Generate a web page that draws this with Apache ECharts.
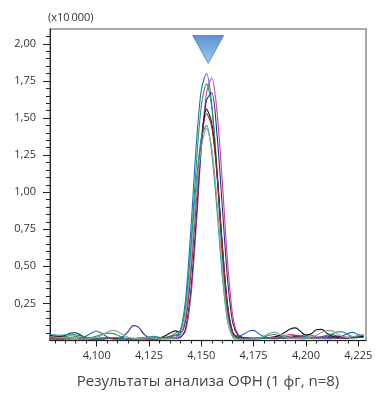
<!DOCTYPE html>
<html>
<head>
<meta charset="utf-8">
<script src="https://cdn.jsdelivr.net/npm/echarts@6/dist/echarts.min.js"></script>
<style>
html,body{margin:0;padding:0;background:#fff;}
#c{width:376px;height:403px;}
</style>
</head>
<body>
<div id="c"></div>
<script>
// Retention time grid (min)
const times = [4.0775,4.0800,4.0825,4.0850,4.0875,4.0900,4.0925,4.0950,4.0975,4.1000,
4.1025,4.1050,4.1075,4.1100,4.1125,4.1150,4.1175,4.1200,4.1225,4.1250,
4.1275,4.1300,4.1325,4.1350,4.1375,4.1400,4.1425,4.1450,4.1475,4.1500,
4.1525,4.1550,4.1575,4.1600,4.1625,4.1650,4.1675,4.1700,4.1725,4.1750,
4.1775,4.1800,4.1825,4.1850,4.1875,4.1900,4.1925,4.1950,4.1975,4.2000,
4.2025,4.2050,4.2075,4.2100,4.2125,4.2150,4.2175,4.2200,4.2225,4.2250,4.2275];

// Intensities (x10 000)
const run1 = [0.020,0.018,0.015,0.012,0.010,0.012,0.018,0.030,0.050,0.064,0.048,0.025,0.012,0.010,0.012,0.015,0.014,0.012,0.010,0.012,0.015,0.014,0.012,0.012,
0.018,0.062,0.280,0.745,1.300,1.690,1.800,1.590,1.125,0.570,0.190,0.050,0.030,0.040,
0.062,0.068,0.045,0.025,0.015,0.012,0.015,0.020,0.018,0.015,0.012,0.015,0.020,0.018,0.015,0.012,0.015,0.020,0.030,0.048,0.055,0.040,0.030];
const run2 = [0.010,0.010,0.012,0.015,0.018,0.015,0.012,0.010,0.012,0.015,0.018,0.020,0.018,0.015,0.012,0.010,0.012,0.015,0.018,0.015,0.012,0.012,0.015,0.020,
0.022,0.025,0.065,0.290,0.750,1.295,1.670,1.770,1.545,1.080,0.540,0.170,0.040,0.018,
0.012,0.010,0.012,0.015,0.020,0.025,0.028,0.035,0.042,0.035,0.030,0.040,0.035,0.025,0.018,0.015,0.020,0.025,0.022,0.018,0.020,0.025,0.022];
const run3 = [0.030,0.028,0.025,0.028,0.032,0.028,0.020,0.015,0.020,0.030,0.042,0.050,0.048,0.035,0.020,0.012,0.010,0.012,0.015,0.018,0.020,0.018,0.020,0.028,
0.048,0.070,0.230,0.630,1.165,1.580,1.730,1.575,1.160,0.620,0.210,0.045,0.015,0.012,
0.012,0.015,0.018,0.025,0.035,0.040,0.030,0.020,0.015,0.018,0.025,0.020,0.015,0.018,0.025,0.035,0.040,0.030,0.020,0.015,0.020,0.030,0.035];
const run4 = [0.025,0.022,0.020,0.018,0.015,0.012,0.010,0.012,0.015,0.012,0.010,0.012,0.015,0.012,0.025,0.060,0.100,0.090,0.045,0.018,0.010,0.012,0.015,0.015,
0.015,0.020,0.085,0.340,0.805,1.305,1.620,1.670,1.390,0.910,0.420,0.120,0.035,0.020,
0.018,0.015,0.012,0.015,0.018,0.020,0.018,0.015,0.020,0.028,0.030,0.025,0.020,0.018,0.020,0.025,0.030,0.028,0.025,0.020,0.018,0.020,0.025];
const run5 = [0.035,0.030,0.028,0.035,0.050,0.052,0.035,0.020,0.012,0.010,0.012,0.015,0.018,0.015,0.012,0.010,0.012,0.015,0.012,0.010,0.012,0.018,0.030,0.050,
0.065,0.055,0.145,0.470,0.945,1.357,1.560,1.466,1.134,0.655,0.246,0.055,0.020,0.015,
0.015,0.012,0.015,0.018,0.020,0.025,0.035,0.055,0.078,0.085,0.060,0.035,0.045,0.072,0.075,0.050,0.028,0.018,0.015,0.018,0.022,0.025,0.028];
const run6 = [0.012,0.010,0.008,0.010,0.012,0.015,0.012,0.010,0.008,0.010,0.012,0.015,0.012,0.010,0.012,0.015,0.012,0.010,0.012,0.015,0.012,0.010,0.015,0.025,
0.035,0.040,0.140,0.460,0.930,1.330,1.530,1.440,1.115,0.645,0.245,0.055,0.018,0.012,
0.012,0.015,0.018,0.020,0.018,0.015,0.020,0.025,0.030,0.032,0.028,0.022,0.018,0.020,0.025,0.022,0.018,0.015,0.018,0.022,0.025,0.022,0.020];
const run7 = [0.040,0.038,0.035,0.038,0.042,0.038,0.030,0.022,0.018,0.015,0.015,0.018,0.020,0.018,0.015,0.012,0.012,0.015,0.020,0.025,0.028,0.022,0.015,0.020,
0.035,0.060,0.235,0.610,1.055,1.365,1.450,1.265,0.880,0.440,0.135,0.030,0.012,0.010,
0.010,0.012,0.015,0.015,0.018,0.020,0.018,0.015,0.015,0.018,0.022,0.025,0.022,0.018,0.020,0.030,0.045,0.058,0.058,0.040,0.025,0.030,0.035];
const run8 = [0.025,0.022,0.020,0.018,0.015,0.012,0.010,0.012,0.015,0.022,0.035,0.055,0.068,0.060,0.040,0.022,0.015,0.012,0.015,0.018,0.015,0.012,0.012,0.015,
0.018,0.035,0.175,0.515,0.960,1.300,1.430,1.295,0.940,0.480,0.140,0.020,0.008,0.008,
0.008,0.010,0.015,0.030,0.048,0.055,0.042,0.025,0.015,0.012,0.015,0.020,0.025,0.035,0.055,0.068,0.065,0.045,0.025,0.020,0.025,0.035,0.042];

const runs = [run1, run2, run3, run4, run5, run6, run7, run8];
const runColors = ['#2c68c0', '#d03c9c', '#2a985a', '#2a2e88', '#151515', '#9a2626', '#1a9a9a', '#9c9c9c'];

// Tick positions / labels
const xMajorTicks = [4.100, 4.125, 4.150, 4.175, 4.200, 4.225];
const xMinorTicks = [4.080,4.085,4.090,4.095,4.105,4.110,4.115,4.120,4.130,4.135,4.140,4.145,4.155,4.160,4.165,4.170,4.180,4.185,4.190,4.195,4.205,4.210,4.215,4.220];
const yMajorTicks = [0.25, 0.50, 0.75, 1.00, 1.25, 1.50, 1.75, 2.00];
const yMinorTicks = [0.05,0.10,0.15,0.20,0.30,0.35,0.40,0.45,0.55,0.60,0.65,0.70,0.80,0.85,0.90,0.95,1.05,1.10,1.15,1.20,1.30,1.35,1.40,1.45,1.55,1.60,1.65,1.70,1.80,1.85,1.90,1.95,2.05];

// Peak marker (inverted triangle)
const markerTime = [4.1533];
const markerLevel = [1.962];

const xRange = [4.0777, 4.2287];
const yRange = [0, 2.1];
const titleText = 'Результаты анализа ОФН (1 фг, n=8)';
const unitText = '(x10\u2009000)';

const FONT = "'Open Sans', 'Noto Sans', sans-serif";
const fmtX = v => v.toFixed(3).replace('.', ',');
const fmtY = v => v.toFixed(2).replace('.', ',');

const chart = echarts.init(document.getElementById('c'), null, {renderer: 'canvas'});

const lineSeries = runs.map((r, i) => ({
  type: 'line',
  name: 'run' + (i + 1),
  data: times.map((t, k) => [t, r[k]]),
  showSymbol: false,
  smooth: 0.3,
  clip: true,
  lineStyle: {color: runColors[i], width: 1.1},
  itemStyle: {color: runColors[i]},
  emphasis: {disabled: true},
  z: 2
}));

lineSeries.push({
  type: 'scatter',
  data: markerTime.map((t, i) => [t, markerLevel[i]]),
  symbol: 'path://M0,0L2,0L1,1.8Z',
  symbolSize: [31, 28],
  symbolKeepAspect: false,
  clip: false,
  itemStyle: {
    color: new echarts.graphic.LinearGradient(0, 0, 0, 1, [
      {offset: 0, color: '#3478c2'},
      {offset: 1, color: '#8cbde9'}
    ]),
    borderColor: '#2f6cae',
    borderWidth: 0.8
  },
  emphasis: {disabled: true},
  z: 5
});

const axisTextStyle = {color: '#333', fontSize: 11, fontFamily: FONT};

chart.setOption({
  animation: false,
  backgroundColor: '#fff',
  grid: {left: 50, right: 10, top: 29, bottom: 62.5, show: true, borderColor: '#8f8f8f', borderWidth: 1.5, backgroundColor: 'transparent'},
  xAxis: [
    {
      type: 'value', min: xRange[0], max: xRange[1], position: 'bottom',
      axisLine: {show: true, lineStyle: {color: '#222', width: 1}},
      axisTick: {show: true, customValues: xMajorTicks, length: 6, lineStyle: {color: '#222'}},
      axisLabel: {show: true, customValues: xMajorTicks, formatter: fmtX, margin: 10, ...axisTextStyle},
      splitLine: {show: false}
    },
    {
      type: 'value', min: xRange[0], max: xRange[1], position: 'bottom',
      axisLine: {show: false},
      axisTick: {show: true, customValues: xMinorTicks, length: 3, lineStyle: {color: '#222'}},
      axisLabel: {show: false},
      splitLine: {show: false}
    }
  ],
  yAxis: [
    {
      type: 'value', min: yRange[0], max: yRange[1], position: 'left',
      axisLine: {show: true, lineStyle: {color: '#222', width: 1}},
      axisTick: {show: true, customValues: yMajorTicks, length: 7, lineStyle: {color: '#222'}},
      axisLabel: {show: true, customValues: yMajorTicks, formatter: fmtY, margin: 14, ...axisTextStyle},
      splitLine: {show: false}
    },
    {
      type: 'value', min: yRange[0], max: yRange[1], position: 'left',
      axisLine: {show: false},
      axisTick: {show: true, customValues: yMinorTicks, length: 4, lineStyle: {color: '#222'}},
      axisLabel: {show: false},
      splitLine: {show: false}
    }
  ],
  graphic: [
    {type: 'text', x: 48, y: 18, style: {text: unitText, font: "11px " + FONT, fill: '#333', textVerticalAlign: 'middle'}},
    {type: 'text', x: 208, y: 382, style: {text: titleText, font: "15px " + FONT, fill: '#444', textAlign: 'center', textVerticalAlign: 'middle'}}
  ],
  series: lineSeries
});
</script>
</body>
</html>
